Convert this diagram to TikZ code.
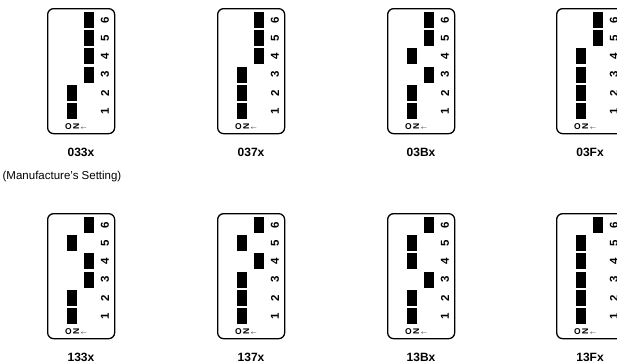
\documentclass[tikz,border=0pt]{standalone}
\usepackage{fontspec}
\setmainfont{Liberation Sans}
\tikzset{
  dipbox/.style={draw, line width=1.3pt, rounded corners=6pt, minimum width=67pt, minimum height=125pt, inner sep=0pt, anchor=north west},
  swblock/.style={fill=black, minimum width=10pt, minimum height=16pt, inner sep=0pt},
  swnum/.style={rotate=90, font=\bfseries\fontsize{11.5}{11.5}\selectfont, inner sep=0pt},
  onlbl/.style={font=\bfseries\fontsize{8.5}{8.5}\selectfont, inner sep=0pt, anchor=west},
  caption/.style={font=\bfseries\fontsize{12}{12}\selectfont, inner sep=0pt},
  note/.style={font=\fontsize{11.5}{12}\selectfont, inner sep=0pt}
}
\newcommand\dipsw[5]{%
  \node[dipbox] (#1) at (#2,#3) {};
  \foreach \k/\c in {#4} {
    \node[swblock] (#1-s\k) at ({#2+\c},{#3+103-18.2*(\k-1)}) {};
  }
  \foreach \k in {1,...,6} {
    \node[swnum] (#1-n\k) at ({#2+58},{#3+103-18.2*(\k-1)}) {\k};
  }
  \node[onlbl] (#1-on) at ({#2+18},{#3+118}) {O\,\rotatebox{90}{N}\,$\scriptscriptstyle\leftarrow$};
  \node[caption] (#1-lbl) at ({#2+34},{#3+144}) {#5};
}
\begin{document}
\begin{tikzpicture}[x=1pt,y=-1pt]
\useasboundingbox (0,0) rectangle (617,362);
\clip (0,0) rectangle (617,362);
\dipsw{a}{47}{8}{1/25,2/25,3/42,4/42,5/42,6/42}{033x}
\dipsw{b}{217}{8}{1/25,2/25,3/25,4/42,5/42,6/42}{037x}
\dipsw{c}{387}{8}{1/25,2/25,3/42,4/25,5/42,6/42}{03Bx}
\dipsw{d}{556}{8}{1/25,2/25,3/25,4/25,5/42,6/42}{03Fx}
\dipsw{e}{47}{213}{1/25,2/25,3/42,4/42,5/25,6/42}{133x}
\dipsw{f}{217}{213}{1/25,2/25,3/25,4/42,5/25,6/42}{137x}
\dipsw{g}{387}{213}{1/25,2/25,3/42,4/25,5/25,6/42}{13Bx}
\dipsw{h}{556}{213}{1/25,2/25,3/25,4/25,5/25,6/42}{13Fx}
\node[note] (ms) at (62,177) {(Manufacture's Setting)};
\end{tikzpicture}
\end{document}
